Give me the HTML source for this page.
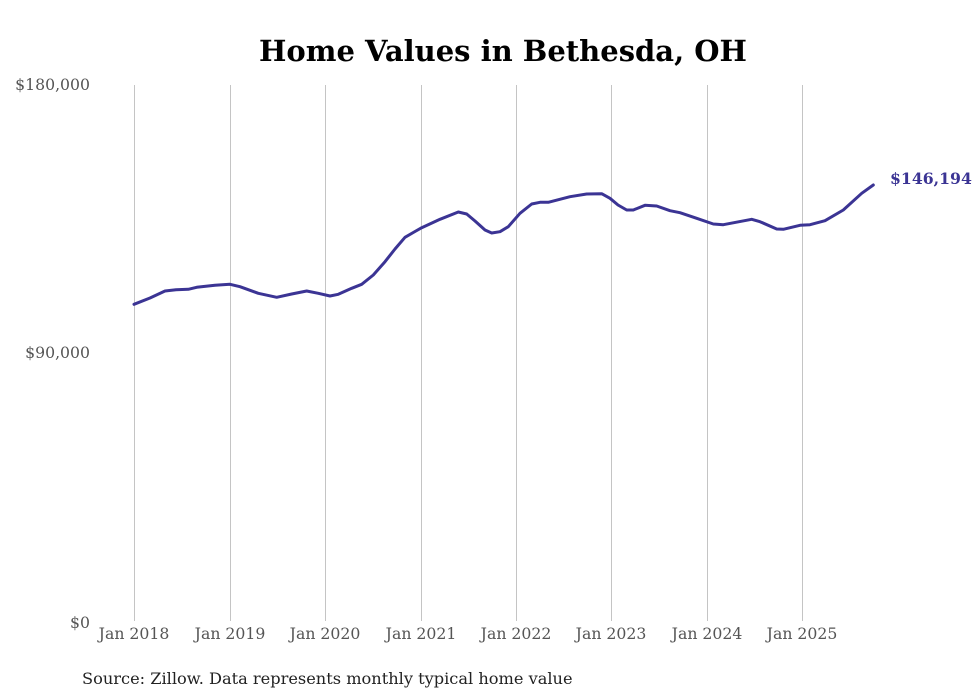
<!DOCTYPE html>
<html><head><meta charset="utf-8"><style>
html,body{margin:0;padding:0;background:#fff;}
svg{display:block;}
</style></head><body>
<svg width="980" height="699" viewBox="0 0 980 699" xmlns="http://www.w3.org/2000/svg">
<rect width="980" height="699" fill="#fff"/>
<text x="503" y="61" text-anchor="middle" font-family="'DejaVu Serif', serif" font-weight="bold" font-size="29" fill="#000">Home Values in Bethesda, OH</text>
<g stroke="#c4c4c4" stroke-width="1">
<line x1="134.5" y1="85" x2="134.5" y2="621"/>
<line x1="230.5" y1="85" x2="230.5" y2="621"/>
<line x1="325.5" y1="85" x2="325.5" y2="621"/>
<line x1="421.5" y1="85" x2="421.5" y2="621"/>
<line x1="516.5" y1="85" x2="516.5" y2="621"/>
<line x1="611.5" y1="85" x2="611.5" y2="621"/>
<line x1="707.5" y1="85" x2="707.5" y2="621"/>
<line x1="802.5" y1="85" x2="802.5" y2="621"/>
</g>
<g font-family="'DejaVu Serif', serif" font-size="15.7" fill="#555" text-anchor="end">
<text x="90" y="90">$180,000</text>
<text x="90" y="358">$90,000</text>
<text x="90" y="628">$0</text>
</g>
<g font-family="'DejaVu Serif', serif" font-size="15.7" fill="#555" text-anchor="middle">
<text x="134" y="639">Jan 2018</text>
<text x="230" y="639">Jan 2019</text>
<text x="325" y="639">Jan 2020</text>
<text x="421" y="639">Jan 2021</text>
<text x="516" y="639">Jan 2022</text>
<text x="611" y="639">Jan 2023</text>
<text x="707" y="639">Jan 2024</text>
<text x="802" y="639">Jan 2025</text>
</g>
<polyline fill="none" stroke="#3b3494" stroke-width="3" stroke-linejoin="round" stroke-linecap="round" points="134,304.3 150,298 165,291 176,289.8 188.3,289.3 196.7,287.3 215,285.3 230,284.3 240,286.7 258.3,293.3 276.7,297.3 291.7,294 306.7,291 318.3,293.3 330,296 338.3,294.3 351.7,288.3 361.7,284.3 373.3,275 385,261.7 395,249 405,237.3 415,231.5 421.7,227.7 440,219.3 458.3,212 466.7,214 475,221 485,230 491.7,233 500,231.7 508.3,226.7 520,213.3 531.7,204 540,202.3 548.3,202.3 570,196.7 586.7,194 601.7,193.7 610,198.3 618,205 626.7,210 633.3,210 645,205.3 656.7,206 670,210.7 680,212.7 696.7,218.3 713.3,224 723.3,224.7 751.7,219.3 760,221.7 776.7,229 783.3,229.3 800,225.3 810,224.7 825,220.7 843.3,210 861.7,193.3 873.3,185"/>
<text x="890" y="184" font-family="'DejaVu Serif', serif" font-weight="bold" font-size="15.7" fill="#3b3494">$146,194</text>
<text x="82" y="684" font-family="'DejaVu Serif', serif" font-size="16.2" fill="#222">Source: Zillow. Data represents monthly typical home value</text>
</svg>
</body></html>
